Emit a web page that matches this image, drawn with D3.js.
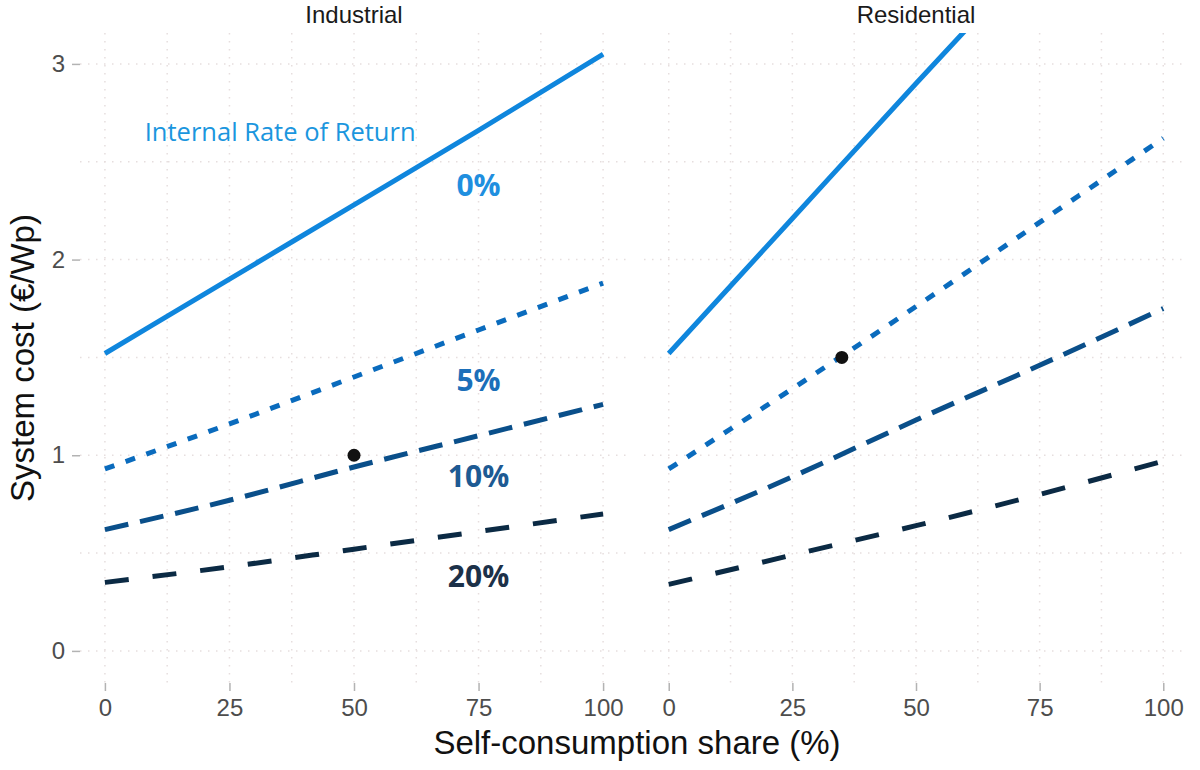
<!DOCTYPE html>
<html>
<head>
<meta charset="utf-8">
<script src="https://cdn.jsdelivr.net/npm/d3@7"></script>
<style>
 body { margin: 0; background: #fff; }
 .tick text { font-family: "Liberation Sans", Arial, sans-serif; fill: #4d4d4d; }
 .tick line { stroke: #b3b3b3; stroke-width: 1.5; }
 .grid line { stroke: #e6dede; stroke-width: 1.5; stroke-dasharray: 1.5, 6.5; }
</style>
</head>
<body>
<svg width="1200" height="770"></svg>
<script>
// self-consumption share (%) at which costs were read
const shares = [0, 25, 50, 75, 100];
const xTicks = [0, 25, 50, 75, 100];
const yTicks = [0, 1, 2, 3];
const facets = ["Industrial", "Residential"];
const irrLabels = ["0%", "5%", "10%", "20%"];

// system cost (€/Wp) per internal rate of return
const industrialIrr0 = [1.52, 1.90, 2.28, 2.66, 3.05];
const industrialIrr5 = [0.93, 1.16, 1.40, 1.64, 1.88];
const industrialIrr10 = [0.62, 0.77, 0.94, 1.10, 1.26];
const industrialIrr20 = [0.35, 0.43, 0.52, 0.61, 0.70];

const residentialIrr0 = [1.52, 2.21, 2.90, 3.58, 4.27];
const residentialIrr5 = [0.93, 1.34, 1.76, 2.19, 2.62];
const residentialIrr10 = [0.62, 0.89, 1.18, 1.46, 1.75];
const residentialIrr20 = [0.34, 0.49, 0.64, 0.80, 0.97];

// highlighted points (share, cost)
const markerShare = [50, 35];
const markerCost = [1.0, 1.5];

const seriesByFacet = [
 [industrialIrr0, industrialIrr5, industrialIrr10, industrialIrr20],
 [residentialIrr0, residentialIrr5, residentialIrr10, residentialIrr20]
];

const lineColors = ["#0f86dd", "#0a6bbd", "#0a4f8a", "#0b2a44"];
const labelColors = ["#1f8fdf", "#1b6fb9", "#1d5a93", "#1c3149"];
const dashes = [null, "10,12", "24,12", "24,24"];

const svg = d3.select("svg");

const plotTop = 33;
const plotBottom = 683;
const panels = [
 { left: 80, right: 628 },
 { left: 644, right: 1188 }
];

const y = d3
 .scaleLinear()
 .domain([-0.164, 3.158])
 .range([plotBottom, plotTop]);

panels.forEach((p, i) => {
 const x = d3
  .scaleLinear()
  .domain([-5, 105])
  .range([p.left, p.right]);

 const g = svg.append("g");

 g.append("clipPath")
  .attr("id", "clip" + i)
  .append("rect")
  .attr("x", p.left)
  .attr("y", plotTop)
  .attr("width", p.right - p.left)
  .attr("height", plotBottom - plotTop);

 // dotted grid, major and minor
 const grid = g.append("g").attr("class", "grid");
 const xGrid = d3.range(0, 101, 12.5);
 const yGrid = d3.range(0, 3.01, 0.5);
 grid
  .selectAll(".vx")
  .data(xGrid)
  .enter()
  .append("line")
  .attr("x1", d => x(d))
  .attr("x2", d => x(d))
  .attr("y1", plotTop)
  .attr("y2", plotBottom);
 grid
  .selectAll(".hy")
  .data(yGrid)
  .enter()
  .append("line")
  .attr("x1", p.left)
  .attr("x2", p.right)
  .attr("y1", d => y(d))
  .attr("y2", d => y(d));

 // facet title
 g.append("text")
  .attr("x", (p.left + p.right) / 2)
  .attr("y", 23)
  .attr("text-anchor", "middle")
  .style("font-family", "Liberation Sans, Arial, sans-serif")
  .style("font-size", "24px")
  .style("fill", "#1a1a1a")
  .text(facets[i]);

 const line = d3
  .line()
  .curve(d3.curveMonotoneX)
  .x((d, j) => x(shares[j]))
  .y(d => y(d));

 const lines = g.append("g").attr("clip-path", `url(#clip${i})`);
 seriesByFacet[i].forEach((vals, k) => {
  lines
   .append("path")
   .datum(vals)
   .attr("d", line)
   .attr("fill", "none")
   .attr("stroke", lineColors[k])
   .attr("stroke-width", 5)
   .attr("stroke-dasharray", dashes[k]);
 });

 g.append("circle")
  .attr("cx", x(markerShare[i]))
  .attr("cy", y(markerCost[i]))
  .attr("r", 6.5)
  .attr("fill", "#111");

 const xAxis = g
  .append("g")
  .attr("transform", `translate(0,${plotBottom})`)
  .call(
   d3
    .axisBottom(x)
    .tickValues(xTicks)
    .tickSize(8)
    .tickPadding(8)
  );
 xAxis.select(".domain").remove();
 xAxis.selectAll("text").style("font-size", "24px");

 if (i === 0) {
  const yAxis = g
   .append("g")
   .attr("transform", `translate(${p.left},0)`)
   .call(
    d3
     .axisLeft(y)
     .tickValues(yTicks)
     .tickFormat(d3.format("d"))
     .tickSize(8)
     .tickPadding(7)
   );
  yAxis.select(".domain").remove();
  yAxis.selectAll("text").style("font-size", "24px");

  // IRR annotations
  g.append("text")
   .attr("x", x(8))
   .attr("y", y(2.65))
   .attr("dy", "0.35em")
   .style("font-family", "Open Sans, sans-serif")
   .style("font-size", "25.5px")
   .style("fill", "#1b96de")
   .text("Internal Rate of Return");

  const labelY = [2.38, 1.38, 0.89, 0.38];
  irrLabels.forEach((t, k) => {
   g.append("text")
    .attr("x", x(75))
    .attr("y", y(labelY[k]))
    .attr("dy", "0.35em")
    .attr("text-anchor", "middle")
    .style("font-family", "Open Sans, sans-serif")
    .style("font-weight", "bold")
    .style("font-size", "30px")
    .style("fill", labelColors[k])
    .text(t);
  });
 }
});

// axis titles
svg
 .append("text")
 .attr("x", 637)
 .attr("y", 754)
 .attr("text-anchor", "middle")
 .style("font-family", "Liberation Sans, Arial, sans-serif")
 .style("font-size", "33px")
 .style("fill", "#111")
 .text("Self-consumption share (%)");

svg
 .append("text")
 .attr("transform", `translate(34,${(plotTop + plotBottom) / 2}) rotate(-90)`)
 .attr("text-anchor", "middle")
 .style("font-family", "Liberation Sans, Arial, sans-serif")
 .style("font-size", "33px")
 .style("fill", "#111")
 .text("System cost (€/Wp)");
</script>
</body>
</html>
